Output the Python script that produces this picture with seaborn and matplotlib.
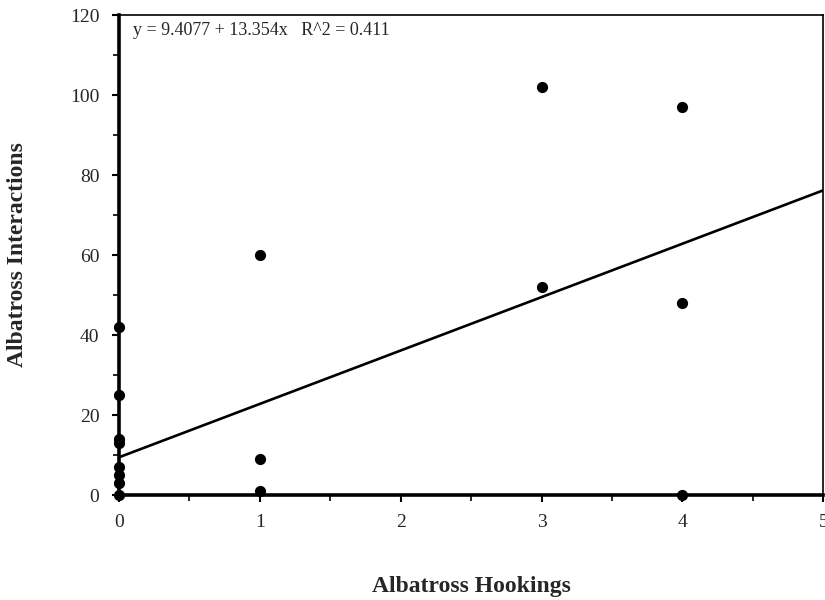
import matplotlib
matplotlib.use("Agg")
import matplotlib.pyplot as plt
from matplotlib.ticker import MultipleLocator
import seaborn as sns
import numpy as np
import pandas as pd

# values
hookings = [0, 0, 0, 0, 0, 0, 0, 0, 1, 1, 1, 3, 3, 4, 4, 4]
interactions = [42, 25, 14, 13, 7, 5, 3, 0, 60, 9, 1, 102, 52, 97, 48, 0]
intercept = 9.4077
slope = 13.354
r2 = 0.411

df = pd.DataFrame({"hook": hookings, "inter": interactions})

sns.set_theme(style="white")
plt.rcParams["font.family"] = ["Liberation Serif", "DejaVu Serif"]

fig = plt.figure(figsize=(8.25, 6), dpi=100)
ax = fig.add_axes([0.144, 0.175, 0.854, 0.80])

sns.scatterplot(data=df, x="hook", y="inter", ax=ax, color="black",
                s=65, edgecolor="black", linewidth=0, clip_on=False, zorder=3)

xs = np.array([0, 5])
ax.plot(xs, intercept + slope * xs, color="black", lw=1.9)

ax.set_xlim(0, 5)
ax.set_ylim(0, 120)
ax.xaxis.set_major_locator(MultipleLocator(1))
ax.xaxis.set_minor_locator(MultipleLocator(0.5))
ax.yaxis.set_major_locator(MultipleLocator(20))
ax.yaxis.set_minor_locator(MultipleLocator(10))
ax.tick_params(which="major", direction="out", length=5, width=1.5,
               labelsize=14, pad=9, color="black", left=True, bottom=True)
ax.tick_params(which="minor", direction="out", length=4, width=1.2,
               color="black", left=True, bottom=True)

for side in ["left", "bottom"]:
    ax.spines[side].set_linewidth(2.6)
    ax.spines[side].set_color("black")
for side in ["top", "right"]:
    ax.spines[side].set_linewidth(1.2)
    ax.spines[side].set_color("black")

ax.set_xlabel("Albatross Hookings", fontsize=17, fontweight="bold", labelpad=32)
ax.set_ylabel("Albatross Interactions", fontsize=17, fontweight="bold", labelpad=30)

ax.text(0.02, 0.985, f"y = {intercept} + {slope}x   R^2 = {r2}",
        transform=ax.transAxes, ha="left", va="top", fontsize=13)

fig.savefig("out.png", dpi=100)
